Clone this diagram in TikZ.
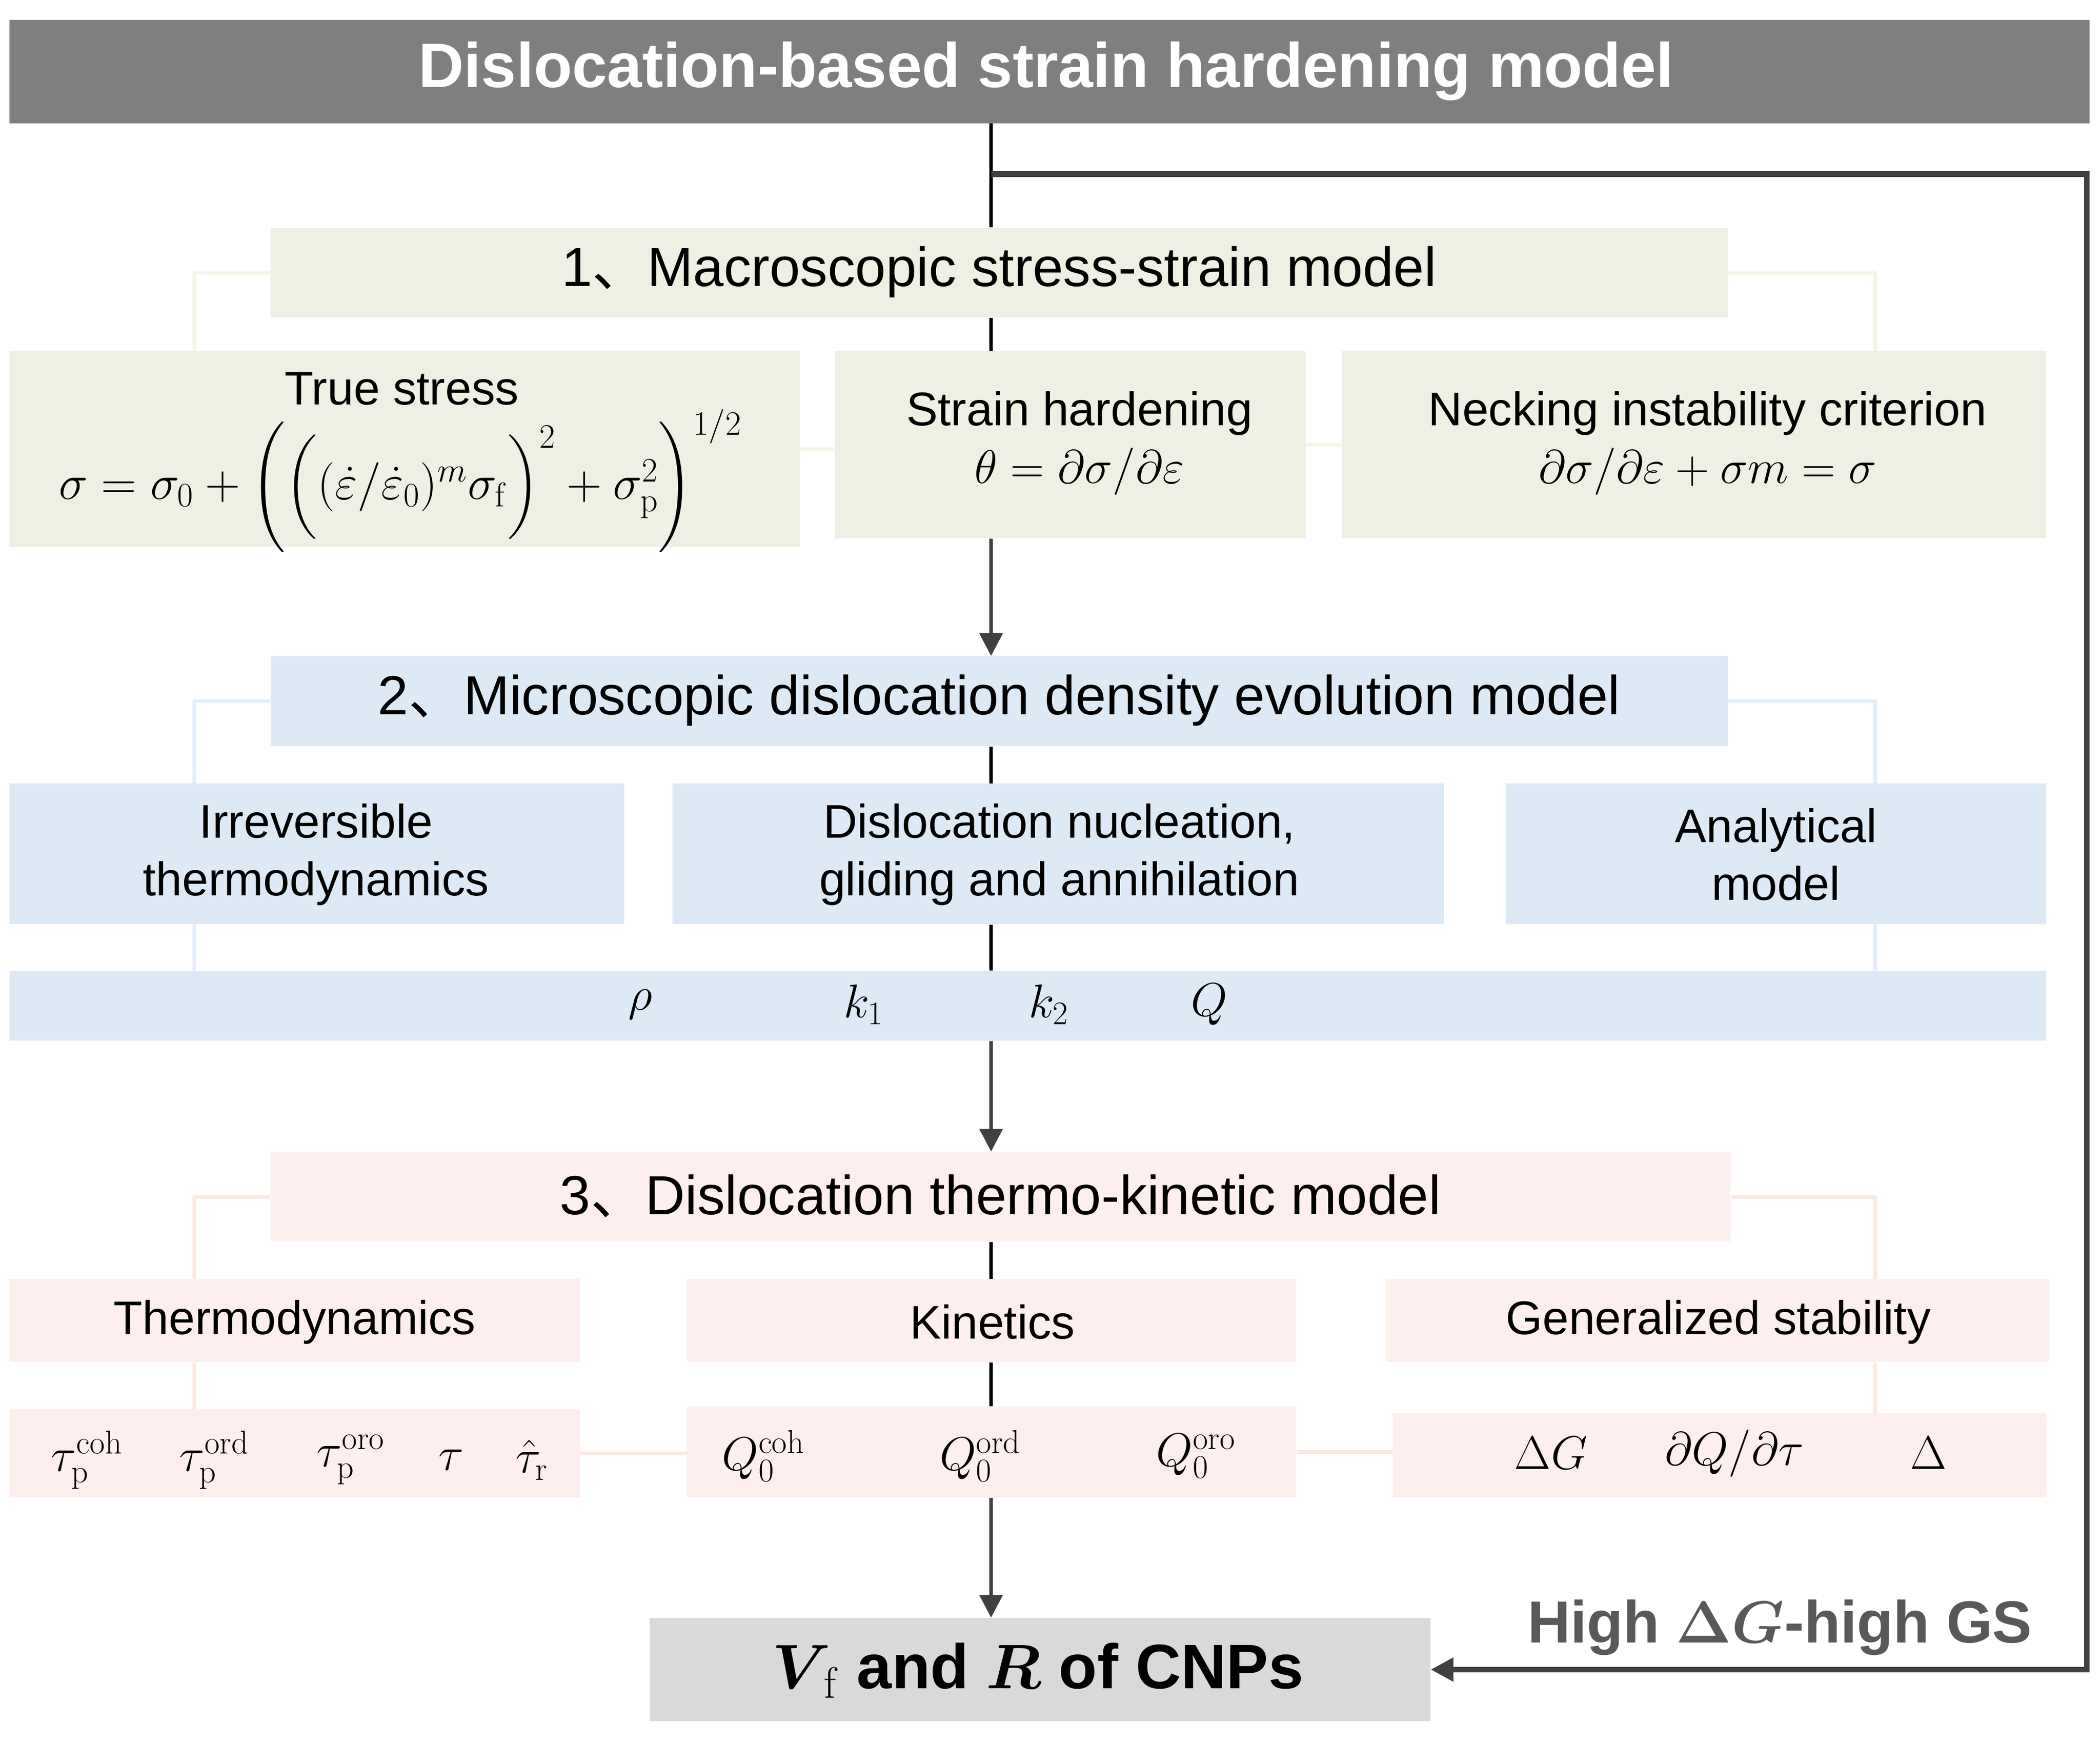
\RequirePackage{fix-cm}
\documentclass[tikz,border=0pt]{standalone}
\usepackage{amsmath}
\usepackage[no-math]{fontspec}
\setmainfont{Liberation Sans}
\newfontfamily\cjk{Noto Sans CJK SC}
\usetikzlibrary{arrows.meta,fit}

\definecolor{bargray}{RGB}{127,127,127}
\definecolor{mbeige}{RGB}{239,240,228}
\definecolor{mbeigeln}{RGB}{246,246,232}
\definecolor{mblue}{RGB}{222,233,246}
\definecolor{mblueln}{RGB}{228,238,250}
\definecolor{mpink}{RGB}{253,239,237}
\definecolor{mpinkln}{RGB}{252,232,229}
\definecolor{endgray}{RGB}{217,217,217}
\definecolor{darkln}{RGB}{64,64,64}
\definecolor{gslabel}{RGB}{89,89,89}

\newcommand{\numhead}[2]{#1{\cjk 、}#2}

\begin{document}
\begin{tikzpicture}[x=0.026926cm,y=-0.026926cm,
  box/.style={inner sep=0pt},
  headtxt/.style={inner sep=0pt,font=\fontsize{31.5}{38}\selectfont},
  bodytxt/.style={inner sep=0pt,align=center,font=\fontsize{27}{33}\selectfont},
  sym/.style={inner sep=0pt,font=\fontsize{27}{33}\selectfont},
  spine/.style={line width=2.2pt,black},
  flow/.style={line width=2.2pt,darkln,-{Triangle[length=13pt,width=13pt]}},
  paleln/.style={line width=2.2pt}]
\useasboundingbox (0,0) rectangle (1568,1301.3);
\coordinate (spine) at (740,0);
\coordinate (lbr) at (145,0);
\coordinate (rbr) at (1400,0);
\coordinate (fb) at (1558,130);

% top bar
\node[box,fill=bargray,fit={(7,15) (1560,92)}] (title) {};
\node[inner sep=0pt,text=white,font=\fontsize{36}{43}\selectfont\bfseries] (titletxt) at (781,53)
  {Dislocation-based strain hardening model};

% 1. macroscopic
\node[box,fill=mbeige,fit={(202,170) (1290,237)}] (head1) {};
\node[box,fill=mbeige,fit={(7,262) (597,408)}] (stress) {};
\node[box,fill=mbeige,fit={(623,262) (975,402)}] (harden) {};
\node[box,fill=mbeige,fit={(1002,262) (1528,402)}] (neck) {};
\node[headtxt] (head1txt) at (746,203) {\numhead{1}{Macroscopic stress-strain model}};
\node[bodytxt] (stresstxt) at (300,290) {True stress};
\node[sym,font=\fontsize{28}{34}\selectfont] (stresseq) at (299,359)
  {$\sigma = \sigma_0 + \biggl(\Bigl((\dot{\varepsilon}/\dot{\varepsilon}_0)^m\sigma_{\mathrm{f}}\Bigr)^2 + \sigma_{\mathrm{p}}^2\biggr)^{1/2}$};
\node[bodytxt] (hardentxt) at (806,331) {Strain hardening\\ $\theta = \partial\sigma/\partial\varepsilon$};
\node[bodytxt] (necktxt) at (1275,331) {Necking instability criterion\\ $\partial\sigma/\partial\varepsilon + \sigma m = \sigma$};

% 2. microscopic
\node[box,fill=mblue,fit={(202,490) (1290,557)}] (head2) {};
\node[box,fill=mblue,fit={(7,585) (466,690)}] (irrev) {};
\node[box,fill=mblue,fit={(502,585) (1078,690)}] (disloc) {};
\node[box,fill=mblue,fit={(1124,585) (1528,690)}] (analyt) {};
\node[box,fill=mblue,fit={(7,725) (1528,777)}] (params) {};
\node[headtxt] (head2txt) at (746,523) {\numhead{2}{Microscopic dislocation density evolution model}};
\node[bodytxt] (irrevtxt) at (236,638) {Irreversible\\ thermodynamics};
\node[bodytxt] (disloctxt) at (791,638) {Dislocation nucleation,\\ gliding and annihilation};
\node[bodytxt] (analyttxt) at (1326,638) {Analytical\\ model};
\foreach \x/\s [count=\i] in {478/\rho, 645/k_1, 783/k_2, 903/Q}
  \node[sym] (par\i) at (\x,750) {$\s$};

% 3. thermo-kinetic
\node[box,fill=mpink,fit={(202,860) (1292,927)}] (head3) {};
\node[box,fill=mpink,fit={(7,955) (433,1017)}] (thermo) {};
\node[box,fill=mpink,fit={(513,955) (968,1017)}] (kin) {};
\node[box,fill=mpink,fit={(1035,955) (1530,1017)}] (stab) {};
\node[box,fill=mpink,fit={(7,1052) (433,1118)}] (taus) {};
\node[box,fill=mpink,fit={(513,1050) (968,1118)}] (qs) {};
\node[box,fill=mpink,fit={(1040,1055) (1528,1118)}] (stabq) {};
\node[headtxt] (head3txt) at (747,893) {\numhead{3}{Dislocation thermo-kinetic model}};
\node[bodytxt] (thermotxt) at (220,987) {Thermodynamics};
\node[bodytxt] (kintxt) at (741,987) {Kinetics};
\node[bodytxt] (stabtxt) at (1283,987) {Generalized stability};
\foreach \x/\s [count=\i] in {65/\tau_{\mathrm{p}}^{\mathrm{coh}}, 160/\tau_{\mathrm{p}}^{\mathrm{ord}},
    262/\tau_{\mathrm{p}}^{\mathrm{oro}}, 337/\tau, 397/\hat{\tau}_{\mathrm{r}}}
  \node[sym] (tau\i) at (\x,1090) {$\s$};
\foreach \x/\s [count=\i] in {570/Q_0^{\mathrm{coh}}, 732/Q_0^{\mathrm{ord}}, 893/Q_0^{\mathrm{oro}}}
  \node[sym] (q\i) at (\x,1087) {$\s$};
\foreach \x/\s [count=\i] in {1158/\Delta G, 1295/{\partial Q/\partial\tau}, 1440/\Delta}
  \node[sym] (st\i) at (\x,1085) {$\s$};

% result
\node[box,fill=endgray,fit={(485,1208) (1068,1285)}] (final) {};
\node[inner sep=0pt,font=\fontsize{36}{43}\selectfont\bfseries] (finaltxt) at (775,1247)
  {$\boldsymbol{V}_{\!\mathrm{f}}$ and $\boldsymbol{R}$ of CNPs};
\node[inner sep=0pt,text=gslabel,font=\fontsize{34}{41}\selectfont\bfseries] (gs) at (1329,1215)
  {High $\boldsymbol{\Delta G}$-high GS};

% spine
\draw[spine] (title.south -| spine) -- (head1.north -| spine);
\draw[spine] (head1.south -| spine) -- (harden.north -| spine);
\draw[flow] (harden.south -| spine) -- (head2.north -| spine);
\draw[spine] (head2.south -| spine) -- (disloc.north -| spine);
\draw[spine] (disloc.south -| spine) -- (params.north -| spine);
\draw[flow] (params.south -| spine) -- (head3.north -| spine);
\draw[spine] (head3.south -| spine) -- (kin.north -| spine);
\draw[spine] (kin.south -| spine) -- (qs.north -| spine);
\draw[flow] (qs.south -| spine) -- (final.north -| spine);

% feedback loop
\draw[flow,line width=3.2pt] (spine |- fb) -- (fb) |- (final.east);

% branches
\draw[paleln,mbeigeln] (head1.west) -| (stress.north -| lbr);
\draw[paleln,mbeigeln] (head1.east) -| (neck.north -| rbr);
\draw[paleln,mbeigeln] (stress.east) -- (stress.east -| harden.west);
\draw[paleln,mbeigeln] (harden.east) -- (neck.west);
\draw[paleln,mblueln] (head2.west) -| (irrev.north -| lbr);
\draw[paleln,mblueln] (head2.east) -| (analyt.north -| rbr);
\draw[paleln,mblueln] (irrev.south -| lbr) -- (params.north -| lbr);
\draw[paleln,mblueln] (analyt.south -| rbr) -- (params.north -| rbr);
\draw[paleln,mpinkln] (head3.west) -| (thermo.north -| lbr);
\draw[paleln,mpinkln] (head3.east) -| (stab.north -| rbr);
\draw[paleln,mpinkln] (thermo.south -| lbr) -- (taus.north -| lbr);
\draw[paleln,mpinkln] (stab.south -| rbr) -- (stabq.north -| rbr);
\draw[paleln,mpinkln] (taus.east) -- (taus.east -| qs.west);
\draw[paleln,mpinkln] (qs.east) -- (qs.east -| stabq.west);
\end{tikzpicture}
\end{document}
